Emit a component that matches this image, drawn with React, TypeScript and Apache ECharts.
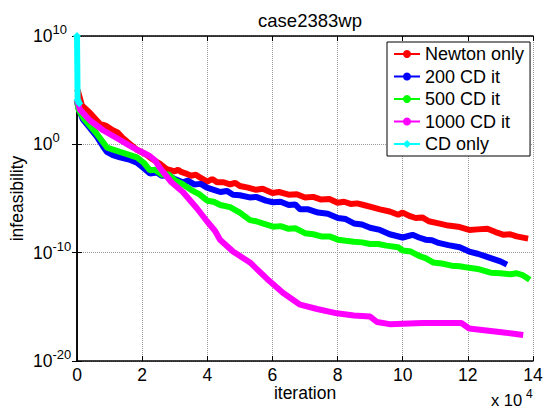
import React, { useEffect, useRef } from "react";
import * as echarts from "echarts";

// x in iterations, y stored as log10(infeasibility)
const newtonX = [0, 300, 1500, 4000, 7000, 9000, 11000, 12500, 14000, 16000, 18400, 21000, 23300, 25500, 27600, 30000, 31000, 32000, 33500, 35000, 36500, 38000, 40000, 41500, 43000, 45000, 47000, 48500, 50000, 52500, 55000, 57000, 60000, 62000, 65000, 67500, 70000, 72500, 75000, 77500, 80000, 82000, 84000, 86000, 88000, 90500, 93000, 96000, 98600, 100000, 102000, 104000, 106000, 108000, 111000, 114000, 117000, 120400, 123000, 126000, 128500, 131000, 133000, 135000, 138500];
const newtonLog = [5.1, 4.9, 3.6, 2.9, 1.9, 1.7, 1.3, 1.1, 0.6, 0.1, -0.5, -0.9, -1.4, -1.8, -2.3, -2.5, -2.35, -2.55, -2.7, -2.9, -2.8, -3.1, -3.45, -3.2, -3.5, -3.5, -3.7, -3.55, -3.85, -4.0, -4.2, -4.1, -4.5, -4.4, -4.65, -4.6, -4.9, -4.85, -5.1, -5.05, -5.4, -5.3, -5.5, -5.45, -5.6, -5.8, -6.0, -6.2, -6.5, -6.3, -6.6, -6.8, -6.75, -7.1, -7.3, -7.5, -7.6, -7.9, -7.85, -7.8, -8.1, -8.35, -8.3, -8.5, -8.7];

const cd200X = [0, 500, 1800, 4000, 6100, 8000, 9200, 11000, 13200, 16000, 18400, 20500, 22400, 24500, 26000, 28000, 30000, 32500, 34000, 36000, 38000, 39900, 42000, 44000, 46000, 47900, 50000, 53000, 55000, 58000, 60200, 62500, 65000, 67000, 68500, 71000, 74000, 77000, 80100, 82500, 85000, 87500, 90000, 93000, 96000, 100000, 103000, 105000, 107000, 109000, 111000, 114000, 117500, 120400, 123000, 125000, 127000, 130000, 132000];
const cd200Log = [4.0, 3.3, 2.3, 1.5, 0.7, -0.2, -0.7, -1.0, -1.2, -1.4, -1.7, -2.2, -2.7, -2.6, -2.9, -2.85, -3.2, -3.5, -3.35, -3.7, -3.65, -4.0, -4.2, -4.4, -4.3, -4.65, -4.7, -4.9, -4.85, -5.2, -5.35, -5.3, -5.6, -5.55, -6.0, -6.0, -6.3, -6.4, -6.8, -6.9, -7.3, -7.4, -7.7, -7.9, -8.3, -8.6, -8.35, -8.6, -8.8, -8.85, -9.1, -9.3, -9.5, -9.9, -10.1, -10.3, -10.5, -10.8, -11.1];

const cd500X = [0, 500, 2000, 6000, 9200, 13200, 18400, 20500, 22400, 24000, 26000, 28000, 30000, 32000, 35000, 37500, 40000, 42000, 44000, 47000, 50000, 53100, 55000, 57000, 60200, 62500, 65000, 67000, 70000, 72500, 75000, 77500, 80100, 82500, 85000, 87500, 90000, 92500, 95000, 98600, 100000, 102500, 105000, 107000, 109300, 112000, 115000, 117500, 120400, 123000, 127000, 130000, 133000, 135000, 137000, 139000];
const cd500Log = [4.0, 3.2, 2.4, 1.0, -0.3, -0.7, -1.2, -1.7, -2.4, -2.35, -2.8, -2.75, -3.3, -3.6, -4.2, -4.6, -5.2, -5.3, -5.6, -5.8, -6.3, -7.0, -7.1, -7.3, -7.6, -7.55, -7.8, -7.75, -8.2, -8.3, -8.5, -8.5, -8.8, -8.9, -9.0, -9.05, -9.2, -9.2, -9.35, -9.5, -9.8, -9.9, -10.3, -10.5, -10.9, -11.0, -11.2, -11.25, -11.4, -11.5, -11.85, -11.9, -12.0, -11.9, -12.1, -12.5];

const cd1000X = [0, 900, 4000, 8000, 13200, 16000, 18400, 20500, 22400, 24000, 25500, 29000, 32500, 36800, 39900, 42400, 43900, 47900, 53100, 58300, 63200, 68500, 73700, 79800, 85000, 90000, 92100, 96000, 106000, 118000, 120400, 129000, 137000];
const cd1000Log = [4.1, 3.2, 2.2, 1.3, 0.4, -0.1, -0.5, -0.8, -1.1, -1.5, -2.2, -3.5, -4.4, -5.9, -7.1, -8.0, -8.8, -9.9, -10.9, -12.4, -13.7, -14.8, -15.2, -15.6, -15.8, -15.9, -16.4, -16.6, -16.5, -16.5, -17.0, -17.3, -17.6];

const cdOnlyX = [0, 200, 700];
const cdOnlyLog = [10, 4.1, 3.8];

const seriesNames = ["Newton only", "200 CD it", "500 CD it", "1000 CD it", "CD only"];
const seriesColors = ["#ff0000", "#0000ff", "#00ff00", "#ff00ff", "#00ffff"];
const xTicks = [0, 2, 4, 6, 8, 10, 12, 14];
const yMinExp = -20;
const yMaxExp = 10;

const FONT = "'Liberation Sans', Arial, Helvetica, sans-serif";

function toPairs(xs: number[], logs: number[]) {
  return xs.map((x, i) => [x, Math.pow(10, logs[i])]);
}

function expLabel(v: number) {
  const e = Math.round(Math.log10(v));
  return `{b|10}{e|${e}}`;
}

export default function App() {
  const ref = useRef<HTMLDivElement>(null);
  useEffect(() => {
    if (!ref.current) return;
    const chart = echarts.init(ref.current, undefined, { renderer: "svg" });
    const data = [
      toPairs(newtonX, newtonLog),
      toPairs(cd200X, cd200Log),
      toPairs(cd500X, cd500Log),
      toPairs(cd1000X, cd1000Log),
      toPairs(cdOnlyX, cdOnlyLog),
    ];
    const xMax = xTicks[xTicks.length - 1] * 10000;
    const xInterval = (xTicks[1] - xTicks[0]) * 10000;
    const richLabel = {
      b: { fontSize: 17.5, fontFamily: FONT, color: "#000", lineHeight: 26 },
      e: { fontSize: 13, fontFamily: FONT, color: "#000", lineHeight: 26, verticalAlign: "top" },
    };
    const axisLineStyle = { show: true, lineStyle: { color: "#000", width: 1.5 } };
    chart.setOption({
      animation: false,
      backgroundColor: "#fff",
      title: {
        text: "case2383wp",
        left: 305,
        top: 6,
        textAlign: "center",
        textStyle: { fontSize: 18.5, fontWeight: "normal", fontFamily: FONT, color: "#000" },
      },
      grid: {
        left: 77,
        right: 11,
        top: 36,
        bottom: 47,
        containLabel: false,
        outerBoundsMode: "none",
      },
      legend: {
        orient: "vertical",
        left: 387,
        top: 42,
        data: seriesNames,
        backgroundColor: "#fff",
        borderColor: "#000",
        borderWidth: 1,
        borderRadius: 0,
        padding: [3, 6, 3, 6],
        itemWidth: 26,
        itemHeight: 10,
        itemGap: 4.5,
        textStyle: { fontSize: 18, fontFamily: FONT, color: "#000", lineHeight: 18 },
      },
      xAxis: [
        {
          type: "value",
          min: 0,
          max: xMax,
          interval: xInterval,
          name: "iteration",
          nameLocation: "middle",
          nameGap: 23,
          nameMoveOverlap: false,
          nameTextStyle: { fontSize: 17.5, fontFamily: FONT, color: "#000" },
          axisLine: axisLineStyle,
          axisTick: { show: true, inside: true, length: 5, lineStyle: { color: "#000" } },
          axisLabel: {
            formatter: (v: number) => String(v / 10000),
            fontSize: 17.5,
            fontFamily: FONT,
            color: "#000",
            margin: 5,
          },
          splitLine: { show: true, lineStyle: { color: "#999", type: "dotted", width: 1 } },
        },
        {
          type: "value",
          position: "top",
          min: 0,
          max: xMax,
          interval: xInterval,
          axisLine: axisLineStyle,
          axisTick: { show: true, inside: true, length: 5, lineStyle: { color: "#000" } },
          axisLabel: { show: false },
          splitLine: { show: false },
        },
      ],
      yAxis: [
        {
          type: "log",
          logBase: 10,
          min: Math.pow(10, yMinExp),
          max: Math.pow(10, yMaxExp),
          name: "infeasibility",
          nameLocation: "middle",
          nameGap: 51,
          nameMoveOverlap: false,
          nameTextStyle: { fontSize: 17.5, fontFamily: FONT, color: "#000" },
          axisLine: axisLineStyle,
          axisTick: { show: true, inside: true, length: 5, lineStyle: { color: "#000" } },
          axisLabel: {
            formatter: expLabel,
            rich: richLabel,
            align: "left",
            margin: 44,
          },
          splitLine: { show: true, lineStyle: { color: "#999", type: "dotted", width: 1 } },
        },
        {
          type: "log",
          logBase: 10,
          position: "right",
          min: Math.pow(10, yMinExp),
          max: Math.pow(10, yMaxExp),
          axisLine: axisLineStyle,
          axisTick: { show: true, inside: true, length: 5, lineStyle: { color: "#000" } },
          axisLabel: { show: false },
          splitLine: { show: false },
        },
      ],
      graphic: [
        {
          type: "text",
          x: 491,
          y: 400,
          style: {
            text: "x 10",
            fontSize: 16.5,
            fontFamily: FONT,
            fill: "#000",
            verticalAlign: "middle",
            align: "left",
          },
        },
        {
          type: "text",
          x: 526,
          y: 394,
          style: {
            text: "4",
            fontSize: 12,
            fontFamily: FONT,
            fill: "#000",
            verticalAlign: "middle",
            align: "left",
          },
        },
      ],
      series: seriesNames.map((name, i) => ({
        name,
        type: "line",
        xAxisIndex: 0,
        yAxisIndex: 0,
        data: data[i],
        color: seriesColors[i],
        symbol: i === 4 ? "diamond" : "circle",
        symbolSize: i === 4 ? 8 : 5,
        showSymbol: i === 4,
        lineStyle: { width: 6, color: seriesColors[i] },
        itemStyle: { color: seriesColors[i] },
        z: 2 + i,
      })),
    });
    return () => chart.dispose();
  }, []);
  return (
    <div
      ref={ref}
      style={{ position: "fixed", left: 0, top: 0, width: 544, height: 408 }}
    />
  );
}
